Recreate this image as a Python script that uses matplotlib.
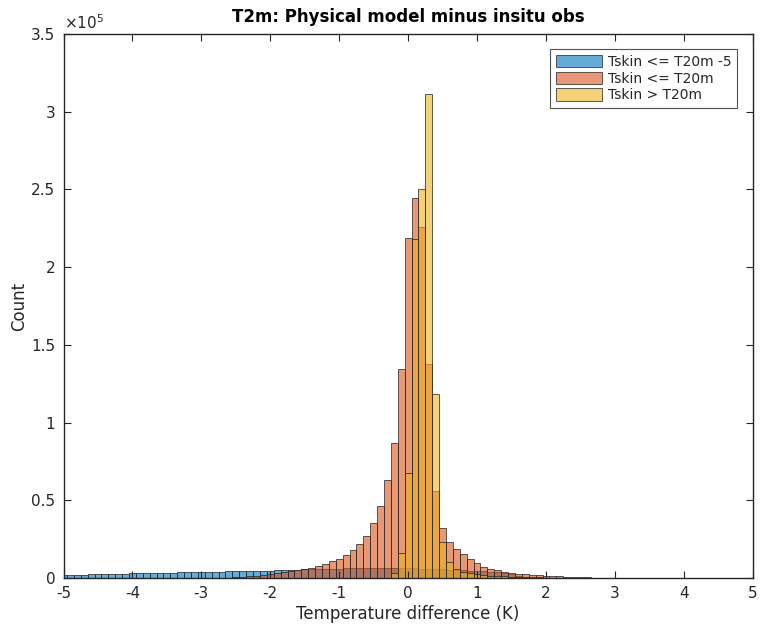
import numpy as np
import matplotlib
matplotlib.use("Agg")
import matplotlib.pyplot as plt
from matplotlib.patches import Patch

# Histogram counts per 0.1 K bin (bin centres start at the given value)
cold_start = -5.0
cold_counts = [1900, 2000, 2100, 2200, 2300, 2400, 2500, 2600, 2700, 2800,
               2900, 3000, 3100, 3200, 3300, 3400, 3500, 3600, 3700, 3750,
               3800, 3900, 4000, 4100, 4200, 4300, 4400, 4500, 4600, 4700,
               4800, 4900, 5000, 5200, 5400, 5600, 5700, 5800, 5900, 6000,
               6100, 6200, 6300, 6400, 6500, 6500, 6600, 6600, 6600, 6500,
               6400, 6300, 6100, 5900, 5700, 5500, 5300, 5100, 4900, 4700,
               4500, 4300, 4000, 3600, 3000, 2300, 1500, 800, 300]

neutral_start = -2.7
neutral_counts = [200, 300, 500, 800, 1200, 1600, 2000, 2500, 3000, 3600,
                  4300, 5000, 5800, 6700, 7800, 9200, 10700, 12500, 14800, 17800,
                  21900, 27000, 35600, 46300, 63100, 87100, 134700, 219000, 244700, 226000,
                  138000, 56000, 32000, 23400, 18500, 15200, 12000, 9500, 7300, 6000,
                  5000, 4100, 3400, 2800, 2400, 1900, 1700, 1500, 1200, 1000,
                  800, 600, 500, 400, 300, 200]

warm_start = -0.4
warm_counts = [200, 300, 3000, 15900, 67400, 218000, 250000, 311400, 118400, 23400,
               10000, 6000, 4000, 3400, 2600, 1900, 1600, 1300, 1100, 900,
               700, 600, 500, 400, 300, 200, 150, 100]

series = [
    ("Tskin <= T20m -5", cold_start, cold_counts, (0.0, 0.447, 0.741)),
    ("Tskin <= T20m", neutral_start, neutral_counts, (0.850, 0.325, 0.098)),
    ("Tskin > T20m", warm_start, warm_counts, (0.929, 0.694, 0.125)),
]

bin_width = 0.1
edge_rgba = (0.15, 0.15, 0.15, 0.75)
face_alpha = 0.6

plt.rcParams['font.family'] = ['DejaVu Sans']
fig = plt.figure(figsize=(7.6, 6.31), dpi=100)
ax = fig.add_axes([0.0836, 0.0840, 0.9068, 0.8621])

handles = []
for label, start, counts, color in series:
    counts = np.asarray(counts, dtype=float)
    centers = np.round(start + bin_width * np.arange(len(counts)), 3)
    ax.bar(centers, counts, width=bin_width, align='center',
           color=(*color, face_alpha), edgecolor=edge_rgba, linewidth=0.7)
    handles.append(Patch(facecolor=(*color, face_alpha), edgecolor=edge_rgba,
                         linewidth=0.7, label=label))

ax.set_xlim(-5, 5)
ax.set_ylim(0, 3.5e5)
ax.set_xticks(np.arange(-5, 6, 1))
ax.set_xticklabels([str(v) for v in range(-5, 6)])
yt = np.arange(0, 3.51e5, 0.5e5)
ax.set_yticks(yt)
ax.set_yticklabels(["0", "0.5", "1", "1.5", "2", "2.5", "3", "3.5"])

axis_color = (0.15, 0.15, 0.15)
for sp in ax.spines.values():
    sp.set_color(axis_color)
    sp.set_linewidth(1.0)
ax.tick_params(direction='in', top=True, right=True, length=5, width=0.8,
               colors=axis_color, labelsize=11, pad=6)

ax.text(0.0, 1.004, r"$\times10^5$", transform=ax.transAxes,
        ha='left', va='bottom', fontsize=11, color=axis_color)

ax.set_title("T2m: Physical model minus insitu obs", fontsize=12,
             fontweight='bold', color='black', pad=9)
ax.set_xlabel("Temperature difference (K)", fontsize=12, color=axis_color, labelpad=3)
ax.set_ylabel("Count", fontsize=12, color=axis_color, labelpad=2)

leg = ax.legend(handles=handles, loc='upper right', fontsize=10,
                bbox_to_anchor=(0.9775, 0.972), frameon=True, fancybox=False,
                handlelength=3.3, handleheight=1.0, handletextpad=0.45,
                labelspacing=0.2, borderpad=0.4, borderaxespad=0.0)
leg.get_frame().set_edgecolor(axis_color)
leg.get_frame().set_linewidth(0.8)
for t in leg.get_texts():
    t.set_color(axis_color)

fig.savefig("out.png", dpi=100)
